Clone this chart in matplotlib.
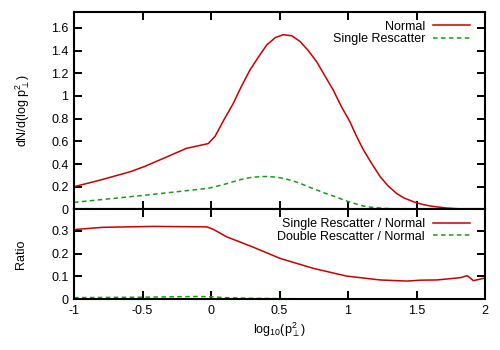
import matplotlib
matplotlib.use('Agg')
import matplotlib.pyplot as plt

plt.rcParams['font.family'] = ['Liberation Sans', 'DejaVu Sans']
plt.rcParams['mathtext.fontset'] = 'custom'
plt.rcParams['mathtext.rm'] = 'Liberation Sans'
plt.rcParams['mathtext.it'] = 'Liberation Sans'

# upper panel: dN/d(log p_perp^2)
x_normal = [-1.0, -0.81, -0.59, -0.49, -0.32, -0.18, -0.02, 0.03, 0.09, 0.163, 0.22, 0.285,
            0.35, 0.407, 0.47, 0.528, 0.59, 0.65, 0.71, 0.772, 0.83, 0.893, 0.95, 1.015,
            1.06, 1.11, 1.17, 1.234, 1.29, 1.355, 1.41, 1.477, 1.54, 1.6, 1.72, 1.84, 2.0]
y_normal = [0.20, 0.258, 0.332, 0.376, 0.464, 0.538, 0.58, 0.645, 0.78, 0.935, 1.08, 1.23,
            1.35, 1.45, 1.515, 1.54, 1.53, 1.48, 1.40, 1.30, 1.18, 1.05, 0.91, 0.77,
            0.65, 0.53, 0.41, 0.29, 0.21, 0.14, 0.10, 0.068, 0.045, 0.03, 0.012, 0.003, 0.0]

x_single = [-1.0, -0.49, -0.02, 0.03, 0.1, 0.163, 0.22, 0.285, 0.35, 0.407, 0.47, 0.528,
            0.59, 0.65, 0.71, 0.772, 0.83, 0.893, 0.95, 1.0, 1.06, 1.11, 1.17, 1.23, 1.35,
            1.5, 2.0]
y_single = [0.062, 0.124, 0.186, 0.20, 0.222, 0.244, 0.264, 0.28, 0.288, 0.29, 0.285, 0.274,
            0.254, 0.23, 0.20, 0.171, 0.144, 0.118, 0.092, 0.07, 0.048, 0.03, 0.019, 0.012,
            0.003, 0.0, 0.0]

# lower panel: ratios
x_ratio = [-1.0, -0.98, -0.79, -0.42, -0.03, 0.017, 0.115, 0.31, 0.504, 0.747, 0.99,
           1.234, 1.43, 1.53, 1.65, 1.82, 1.87, 1.915, 1.99]
y_single_ratio = [0.305, 0.307, 0.316, 0.32, 0.318, 0.307, 0.274, 0.228, 0.179, 0.135, 0.101,
                  0.084, 0.079, 0.083, 0.084, 0.094, 0.103, 0.081, 0.091]
x_double = [-1.0, -0.5, -0.1, 0.0, 0.1, 0.3, 0.6, 1.0, 2.0]
y_double = [0.006, 0.008, 0.011, 0.010, 0.006, 0.003, 0.001, 0.0, 0.0]

red = '#c80000'
green = '#1a9a1a'
dash = (3.0, 2.2)

fig = plt.figure(figsize=(5, 3.5), dpi=100)
ax1 = fig.add_axes([0.148, 0.4017, 0.822, 0.564])
ax2 = fig.add_axes([0.148, 0.1457, 0.822, 0.256])

ax1.plot(x_normal, y_normal, color=red, lw=1.1, label='Normal')
ax1.plot(x_single, y_single, color=green, lw=1.1, dashes=dash, label='Single Rescatter')
ax2.plot(x_ratio, y_single_ratio, color=red, lw=1.1, label='Single Rescatter / Normal')
ax2.plot(x_double, y_double, color=green, lw=1.1, dashes=dash, label='Double Rescatter / Normal')

for ax in (ax1, ax2):
    ax.set_xlim(-1, 2)
    ax.set_xticks([-1, -0.5, 0, 0.5, 1, 1.5, 2])
    ax.tick_params(direction='in', top=True, right=True, length=6, width=1.4, labelsize=9, pad=4)
    for s in ax.spines.values():
        s.set_linewidth(1.5)
    ax.legend(loc='upper right', bbox_to_anchor=(0.985, 1.0), frameon=False, fontsize=9,
              markerfirst=False, handlelength=3.0, handletextpad=0.6,
              labelspacing=0.05, borderaxespad=0.3)

ax1.set_ylim(0, 1.74)
ax1.set_yticks([0, 0.2, 0.4, 0.6, 0.8, 1, 1.2, 1.4, 1.6])
ax1.set_yticklabels(['0', '0.2', '0.4', '0.6', '0.8', '1', '1.2', '1.4', '1.6'])
ax1.tick_params(labelbottom=False)
ax1.set_ylabel(r'dN/d(log p$_\perp^2$)', fontsize=9, labelpad=14)

ax2.set_ylim(0, 0.395)
ax2.set_yticks([0, 0.1, 0.2, 0.3])
ax2.set_yticklabels(['0', '0.1', '0.2', '0.3'])
ax2.set_xticklabels(['-1', '-0.5', '0', '0.5', '1', '1.5', '2'])
ax2.set_ylabel('Ratio', fontsize=9, labelpad=17)
ax2.set_xlabel(r'log$_{10}$(p$_\perp^2$)', fontsize=9, labelpad=3)

fig.savefig('out.png', dpi=100)
